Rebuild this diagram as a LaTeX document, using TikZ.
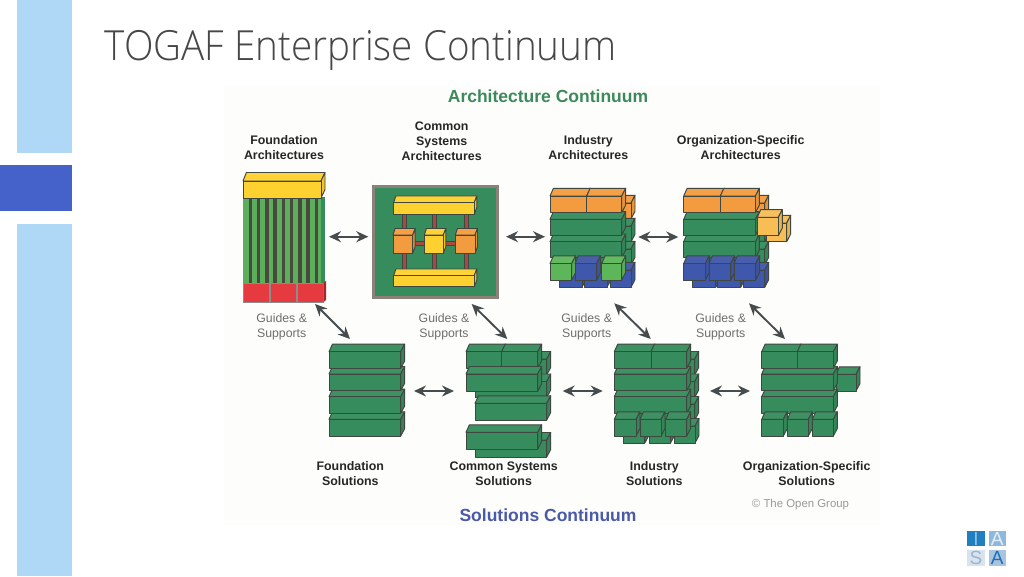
\documentclass[tikz,border=0pt]{standalone}
\usepackage{fontspec}
\usetikzlibrary{arrows.meta}
\setmainfont{Liberation Sans}
\newfontfamily\lightfont{Open Sans Light}
\definecolor{sidec}{HTML}{AED8F5}
\definecolor{activec}{HTML}{4462C9}
\definecolor{paperc}{HTML}{FDFDFB}
\definecolor{edgec}{HTML}{404640}
\definecolor{gr}{HTML}{368C5C}
\definecolor{lgr}{HTML}{5DB75A}
\definecolor{stripeg}{HTML}{5AAE5C}
\definecolor{orc}{HTML}{F39C3F}
\definecolor{yel}{HTML}{FDD12F}
\definecolor{yor}{HTML}{F6BE55}
\definecolor{blu}{HTML}{4058AB}
\definecolor{redc}{HTML}{E53A3F}
\definecolor{pil}{HTML}{A84A3E}
\definecolor{framec}{HTML}{8C8178}
\definecolor{arrc}{HTML}{464C4E}
\definecolor{txtc}{HTML}{262626}
\definecolor{guidec}{HTML}{6E6E6E}
\definecolor{logoa}{HTML}{1F7FC1}
\definecolor{logob}{HTML}{8FB8DD}
\definecolor{logoc}{HTML}{D7E3EE}
\definecolor{logod}{HTML}{A9C4DE}
\definecolor{logoat}{HTML}{8FC0E6}
\definecolor{logobt}{HTML}{E4EEF7}
\definecolor{logoct}{HTML}{9DB4CB}
\definecolor{logodt}{HTML}{1F6FB5}
\definecolor{archt}{HTML}{3C8A5C}
\definecolor{solt}{HTML}{4A5AA8}
\definecolor{copyt}{HTML}{9A9A9A}
\definecolor{stripec}{HTML}{4A4A3C}
\newcommand{\ddx}{4}
\newcommand{\ddy}{7.5}
% block: colour, x, y (front top-left), w, h
\newcommand{\blk}[5]{%
  \draw[blockedge,fill=#1!96!white] (#2,#3) -- ({#2+\ddx*0.85},{#3-\ddy}) -- ({#2+#4+\ddx},{#3-\ddy}) -- ({#2+#4},#3) -- cycle;
  \draw[blockedge,fill=#1!94!black] ({#2+#4},#3) -- ({#2+#4+\ddx},{#3-\ddy}) -- ({#2+#4+\ddx},{#3+#5-\ddy}) -- ({#2+#4},{#3+#5}) -- cycle;
  \draw[blockedge,fill=#1] (#2,#3) rectangle ({#2+#4},{#3+#5});}
\tikzset{
  blockedge/.style={draw=edgec,line width=0.95pt,line join=round},
  head/.style={font=\bfseries\fontsize{12.4}{15}\selectfont,text=txtc,align=center,inner sep=0pt},
  guide/.style={font=\fontsize{12.3}{15}\selectfont,text=guidec,align=center,inner sep=0pt},
  conti/.style={font=\bfseries\fontsize{17.5}{20}\selectfont,inner sep=0pt},
  dblarrow/.style={arrc,line width=1.9pt,{Stealth[length=12pt,width=11pt,inset=4pt]}-{Stealth[length=12pt,width=11pt,inset=4pt]}},
  logoletter/.style={font=\fontsize{19}{19}\selectfont,inner sep=0pt}
}
\begin{document}
\begin{tikzpicture}[x=1pt,y=-1pt]
\useasboundingbox (0,0) rectangle (1024,576);
\fill[white] (0,0) rectangle (1024,576);
% slide furniture
\fill[sidec] (17,0) rectangle (72,153);
\fill[sidec] (17,224) rectangle (72,576);
\fill[activec] (0,164.5) rectangle (72,211);
\node[anchor=base west,inner sep=0pt,xscale=0.93,text=black!72,font=\lightfont\fontsize{41.5}{44}\selectfont] (title) at (104.5,60) {TOGAF Enterprise Continuum};
\fill[paperc] (224,85) rectangle (880,525);
% logo
\fill[logoa] (967,530.5) rectangle (985,546);
\fill[logob] (988.5,530.5) rectangle (1006,546);
\fill[logoc] (967,549.5) rectangle (985,565.5);
\fill[logod] (988.5,549.5) rectangle (1006,565.5);
\node[logoletter,text=logoat] (li) at (976,538.5) {I};
\node[logoletter,text=logobt] (la) at (997.2,538.5) {A};
\node[logoletter,text=logoct] (ls) at (976,557.5) {S};
\node[logoletter,text=logodt] (lb) at (997.2,557.5) {A};
% labels
\node[conti,text=archt] (archc) at (548,96) {Architecture Continuum};
\node[conti,text=solt] (solc) at (548,515) {Solutions Continuum};
\node[head] (fa) at (284,147.5) {Foundation\\Architectures};
\node[head] (ca) at (441.7,141.7) {Common\\Systems\\Architectures};
\node[head] (ia) at (588.3,147.5) {Industry\\Architectures};
\node[head] (oa) at (740.7,147.5) {Organization-Specific\\Architectures};
\node[head] (fs) at (350.3,474) {Foundation\\Solutions};
\node[head] (cs) at (503.7,474) {Common Systems\\Solutions};
\node[head] (is) at (654.3,474) {Industry\\Solutions};
\node[head] (os) at (806.7,474) {Organization-Specific\\Solutions};
\node[guide] (g1) at (281.7,326.8) {Guides \&\\Supports};
\node[guide] (g2) at (444,326.8) {Guides \&\\Supports};
\node[guide] (g3) at (586.7,326.8) {Guides \&\\Supports};
\node[guide] (g4) at (720.7,326.8) {Guides \&\\Supports};
\node[inner sep=0pt,text=copyt,font=\fontsize{11.4}{13}\selectfont] (copy) at (800.5,505) {© The Open Group};
% Foundation Architectures
\fill[stripeg] (243,197) rectangle (325,284);
\foreach \i in {0,...,8} {
  \fill[stripec] ({248.5+8.25*\i},197) rectangle ({252+8.25*\i},284);
}
\fill[gr] (321,197) rectangle (325,284);
\foreach \xx in {243,270,297} {\draw[draw=black!45,line width=0.6pt,fill=redc] (\xx,283) rectangle ({\xx+26.5},302);}
\fill[redc!70!black] (323.5,283) -- (326,281) -- (326,300) -- (323.5,302) -- cycle;
\renewcommand{\ddy}{8.5}
\blk{yel}{243}{181}{78}{17}
% Common Systems Architectures
\draw[draw=framec,line width=3pt,fill=gr] (373,186) rectangle (497,297);
\renewcommand{\ddx}{2.5}
\renewcommand{\ddy}{6.5}
\foreach \xx in {404,434.7,466} {\draw[draw=edgec,line width=0.5pt,fill=pil] ({\xx-2},212) rectangle ({\xx+2},272);}
\draw[draw=edgec,line width=0.5pt,fill=pil] (410,241) rectangle (458,245);
\blk{yel}{393.7}{202.5}{80.6}{11.5}
\blk{yel}{393.7}{275.5}{80.6}{11.2}
\blk{orc}{393}{235}{19.7}{18.3}
\blk{yel}{424.3}{235}{19}{18.3}
\blk{orc}{455.3}{235}{19.7}{18.3}
% Industry Architectures
\renewcommand{\ddx}{4}
\renewcommand{\ddy}{7.7}
\blk{orc}{559}{203}{72}{16}
\blk{gr}{559}{226}{72}{16}
\blk{gr}{559}{249}{72}{16}
\blk{blu}{559}{270}{23}{17.3}
\blk{blu}{584}{270}{23}{17.3}
\blk{blu}{610}{270}{21}{17.3}
\blk{gr}{550}{241.7}{71.7}{16}
\blk{gr}{550}{219.3}{71.7}{15.7}
\blk{orc}{550}{196}{36.7}{16.7}
\blk{orc}{586.7}{196}{35}{16.7}
\blk{lgr}{550}{263.5}{21.7}{16.5}
\blk{blu}{575}{263.5}{21.7}{16.5}
\blk{lgr}{601.7}{263.5}{20}{16.5}
% Organization-Specific Architectures
\blk{orc}{692.7}{203}{72}{16}
\blk{gr}{692.7}{226}{72}{16}
\blk{gr}{692.7}{249}{72}{16}
\blk{blu}{692.7}{270}{23}{17.3}
\blk{blu}{717.7}{270}{23}{17.3}
\blk{blu}{743.7}{270}{21}{17.3}
\blk{gr}{683.7}{241.7}{71.7}{16}
\blk{gr}{683.7}{219.3}{71.7}{15.7}
\blk{orc}{683.7}{196}{36.7}{16.7}
\blk{orc}{720.4}{196}{35}{16.7}
\blk{blu}{683.7}{263.5}{21.7}{16.5}
\blk{blu}{709}{263.5}{21.7}{16.5}
\blk{blu}{734}{263.5}{21.7}{16.5}
\blk{yor}{766}{223}{20.7}{18.7}
\blk{yor}{757.3}{217.3}{21}{18.4}
% Foundation Solutions
\renewcommand{\ddy}{7.5}
\blk{gr}{329}{419.3}{71.7}{16.7}
\blk{gr}{329}{396.7}{71.7}{16.7}
\blk{gr}{329}{374}{71.7}{16.7}
\blk{gr}{329}{351.7}{71.7}{16.7}
% Common Systems Solutions
\blk{gr}{475}{359}{71.7}{16}
\blk{gr}{475}{381.5}{71.7}{16}
\blk{gr}{475}{403.3}{71.7}{16.7}
\blk{gr}{466}{351.7}{35.7}{16.7}
\blk{gr}{501.7}{351.7}{36}{16.7}
\blk{gr}{466}{374}{71.7}{17.3}
\blk{gr}{475}{440}{71.7}{17}
\blk{gr}{466}{432.3}{71.7}{16.7}
% Industry Solutions
\blk{gr}{623}{359}{71.7}{16}
\blk{gr}{623}{381.5}{71.7}{16}
\blk{gr}{623}{404}{71.7}{16}
\blk{gr}{623.3}{426}{21.5}{17}
\blk{gr}{649}{426}{21.5}{17}
\blk{gr}{674.5}{426}{20.5}{17}
\blk{gr}{614.3}{396.7}{72.4}{16.7}
\blk{gr}{614.3}{374}{72.4}{16.7}
\blk{gr}{614.3}{351.7}{36.7}{16.7}
\blk{gr}{651}{351.7}{35.7}{16.7}
\blk{gr}{614.3}{419.3}{21.7}{16.7}
\blk{gr}{640}{419.3}{21}{16.7}
\blk{gr}{665.7}{419.3}{21}{16.7}
% Organization-Specific Solutions
\blk{gr}{836}{374.3}{20}{16.7}
\blk{gr}{761.7}{396.7}{71.6}{16.7}
\blk{gr}{761.7}{374}{71.6}{16.7}
\blk{gr}{761.7}{351.7}{35.6}{16.7}
\blk{gr}{797.3}{351.7}{36}{16.7}
\blk{gr}{761.7}{419.3}{21.6}{16.7}
\blk{gr}{787.3}{419.3}{21}{16.7}
\blk{gr}{812.3}{419.3}{21}{16.7}
% connectors
\coordinate (a1) at (329,236.7); \coordinate (a2) at (368.3,236.7);
\coordinate (b1) at (506,236.7); \coordinate (b2) at (545,236.7);
\coordinate (c1) at (638.3,237); \coordinate (c2) at (678.3,237);
\coordinate (d1) at (315,304); \coordinate (d2) at (350,339);
\coordinate (e1) at (471.7,304); \coordinate (e2) at (507.3,339);
\coordinate (f1) at (614.3,303.3); \coordinate (f2) at (650.7,339);
\coordinate (g1c) at (749,303.3); \coordinate (g2c) at (785,339);
\coordinate (h1) at (414,391); \coordinate (h2) at (454,391);
\coordinate (i1) at (562.7,391); \coordinate (i2) at (602.7,391);
\coordinate (j1) at (710,391); \coordinate (j2) at (750,391);
\foreach \p/\q in {a1/a2,b1/b2,c1/c2,d1/d2,e1/e2,f1/f2,g1c/g2c,h1/h2,i1/i2,j1/j2} {
  \draw[dblarrow] (\p) -- (\q);
}
\end{tikzpicture}
\end{document}
